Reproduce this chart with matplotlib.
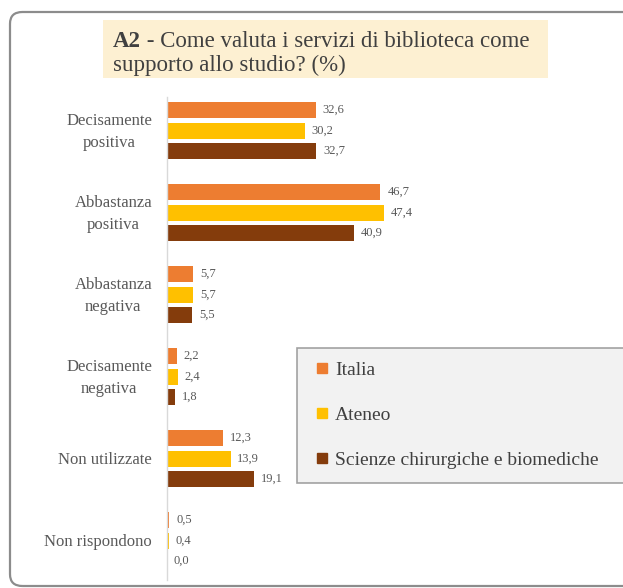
import matplotlib.pyplot as plt
from matplotlib.patches import FancyBboxPatch, Rectangle
from matplotlib.lines import Line2D
import numpy as np

plt.rcParams['font.family'] = ['Liberation Serif', 'DejaVu Serif']

categories = ['Decisamente\npositiva', 'Abbastanza\npositiva', 'Abbastanza\nnegativa',
              'Decisamente\nnegativa', 'Non utilizzate', 'Non rispondono']
series = ['Italia', 'Ateneo', 'Scienze chirurgiche e biomediche']
italia = [32.6, 46.7, 5.7, 2.2, 12.3, 0.5]
ateneo = [30.2, 47.4, 5.7, 2.4, 13.9, 0.4]
scienze = [32.7, 40.9, 5.5, 1.8, 19.1, 0.0]
colors = ['#ED7D31', '#FFC000', '#843C0C']

W, H = 623, 588
fig = plt.figure(figsize=(W / 100, H / 100), dpi=100)

# rounded outer frame
frame = FancyBboxPatch((10 / W, 2 / H), 640 / W, (576 - 2) / H,
                       boxstyle='round,pad=0,rounding_size=0.02',
                       transform=fig.transFigure, facecolor='none',
                       edgecolor='#8c8c8c', linewidth=1.6, zorder=-1)
fig.patches.append(frame)

# title box
fig.patches.append(Rectangle((103 / W, 1 - 78 / H), 445 / W, 58 / H,
                             transform=fig.transFigure, facecolor='#FDF0D2',
                             edgecolor='none', zorder=-1))
t1 = fig.text(113 / W, 1 - 47 / H, 'A2', fontsize=16.5, fontweight='bold',
              color='#404040', va='baseline', ha='left')
fig.canvas.draw()
bb = t1.get_window_extent(fig.canvas.get_renderer())
fig.text(bb.x1 / W, 1 - 47 / H, ' - Come valuta i servizi di biblioteca come',
         fontsize=16.5, color='#404040', va='baseline', ha='left')
fig.text(113 / W, 1 - 71 / H, 'supporto allo studio? (%)', fontsize=16.5,
         color='#404040', va='baseline', ha='left')

# axes
ax = fig.add_axes([167 / W, 8 / H, 457 / W, (580 - 97) / H])
ax.set_facecolor('none')
y = np.arange(len(categories))
off = 0.25
h = 0.195
for k, vals in enumerate([italia, ateneo, scienze]):
    pos = y + (k - 1) * off
    ax.barh(pos, vals, height=h, color=colors[k], label=series[k])
    for p, v in zip(pos, vals):
        ax.text(v + 1.5, p, ('%.1f' % v).replace('.', ','), va='center', ha='left',
                fontsize=9, color='#595959')

ax.set_xlim(0, 100)
ax.set_ylim(5.48, -0.41)
ax.set_xticks([])
ax.set_yticks([])
for s in ['top', 'right', 'bottom']:
    ax.spines[s].set_visible(False)
ax.spines['left'].set_color('#d9d9d9')
ax.spines['left'].set_linewidth(1)

for i, c in enumerate(categories):
    ax.annotate(c, xy=(0, i), xycoords=('axes fraction', 'data'),
                xytext=(-15, -1), textcoords='offset pixels',
                ha='right', va='center', multialignment='center',
                fontsize=12, color='#595959', linespacing=1.5)

handles = [Line2D([], [], marker='s', linestyle='none', markersize=7,
                  markerfacecolor=c, markeredgecolor=c) for c in colors]
leg = fig.legend(handles, series, loc='upper left',
                 bbox_to_anchor=(297 / W, 1 - 348 / H, 340 / W, 0),
                 mode='expand', frameon=True,
                 fancybox=False, fontsize=14, labelspacing=1.4,
                 handlelength=1.22, handletextpad=0.05, borderpad=0.7,
                 borderaxespad=0, labelcolor='#404040')
leg.get_frame().set_facecolor('#EFEFEF')
leg.get_frame().set_edgecolor('#8c8c8c')
leg.get_frame().set_linewidth(1.2)

plt.savefig('out.png', dpi=100)
